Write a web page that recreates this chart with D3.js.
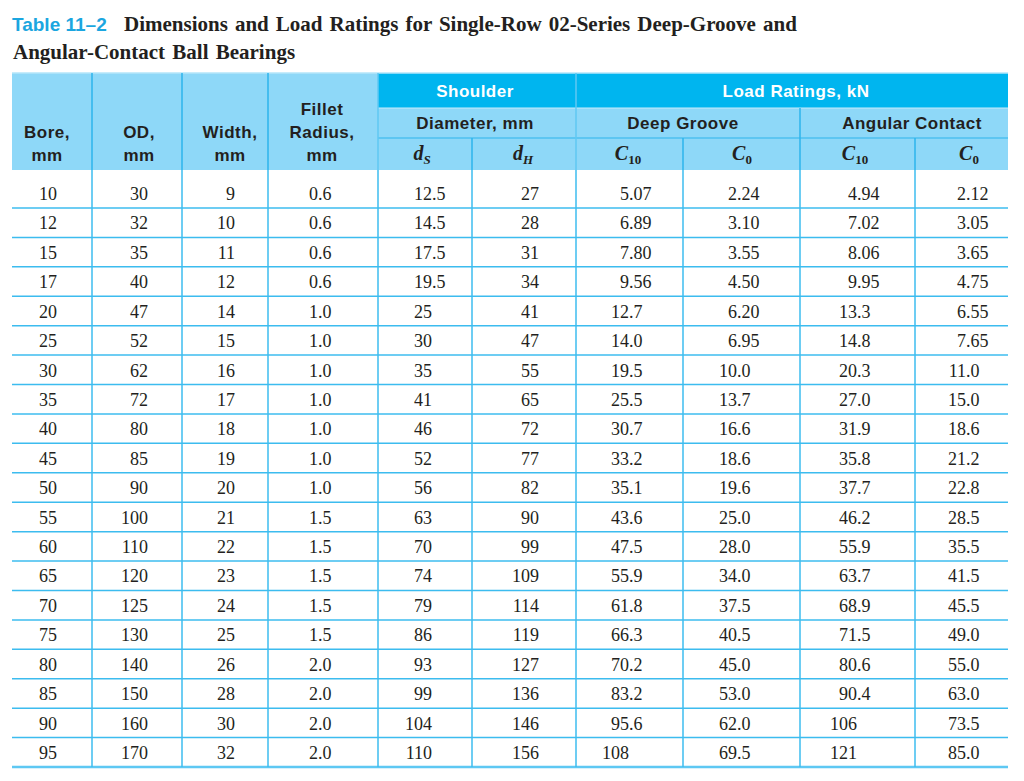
<!DOCTYPE html>
<html>
<head>
<meta charset="utf-8">
<script src="https://cdn.jsdelivr.net/npm/d3@7"></script>
<style>
  html, body { margin: 0; padding: 0; background: #ffffff; }
  svg { display: block; }
</style>
</head>
<body>
<div id="chart"></div>
<script>
// ---------------- DATA ----------------
const titleTag = "Table 11–2";
const titleLine1 = "Dimensions and Load Ratings for Single-Row 02-Series Deep-Groove and";
const titleLine2 = "Angular-Contact Ball Bearings";

const bore   = ["10","12","15","17","20","25","30","35","40","45","50","55","60","65","70","75","80","85","90","95"];
const od     = ["30","32","35","40","47","52","62","72","80","85","90","100","110","120","125","130","140","150","160","170"];
const widthV = ["9","10","11","12","14","15","16","17","18","19","20","21","22","23","24","25","26","28","30","32"];
const fillet = ["0.6","0.6","0.6","0.6","1.0","1.0","1.0","1.0","1.0","1.0","1.0","1.5","1.5","1.5","1.5","1.5","2.0","2.0","2.0","2.0"];
const dS     = ["12.5","14.5","17.5","19.5","25","30","35","41","46","52","56","63","70","74","79","86","93","99","104","110"];
const dH     = ["27","28","31","34","41","47","55","65","72","77","82","90","99","109","114","119","127","136","146","156"];
const dgC10  = ["5.07","6.89","7.80","9.56","12.7","14.0","19.5","25.5","30.7","33.2","35.1","43.6","47.5","55.9","61.8","66.3","70.2","83.2","95.6","108"];
const dgC0   = ["2.24","3.10","3.55","4.50","6.20","6.95","10.0","13.7","16.6","18.6","19.6","25.0","28.0","34.0","37.5","40.5","45.0","53.0","62.0","69.5"];
const acC10  = ["4.94","7.02","8.06","9.95","13.3","14.8","20.3","27.0","31.9","35.8","37.7","46.2","55.9","63.7","68.9","71.5","80.6","90.4","106","121"];
const acC0   = ["2.12","3.05","3.65","4.75","6.55","7.65","11.0","15.0","18.6","21.2","22.8","28.5","35.5","41.5","45.5","49.0","55.0","63.0","73.5","85.0"];

const columns = [bore, od, widthV, fillet, dS, dH, dgC10, dgC0, acC10, acC0];

// header labels
const simpleHeaders = [["Bore,", "mm"], ["OD,", "mm"], ["Width,", "mm"], ["Fillet", "Radius,", "mm"]];
const groupTop = ["Shoulder", "Load Ratings, kN"];
const groupMid = ["Diameter, mm", "Deep Groove", "Angular Contact"];
const symbols = [["d","S",true], ["d","H",true], ["C","10",false], ["C","0",false], ["C","10",false], ["C","0",false]];

// ---------------- LAYOUT ----------------
const W = 1024, H = 781;
const edges = [12, 92, 182, 268, 378, 472, 576, 683, 800, 915, 1008];
const intEnd = [57, 148, 235, 318, 432, 539, 629, 737, 857, 966];
const headerCenters = [47, 139, 230, 322];
const symCenters = [422, 523, 628, 742, 855, 969];

const hdrTop = 73, hdrR1 = 108, hdrR2 = 138, hdrBot = 170;
const nRows = bore.length;

const C_DARK = "#00b5ef";
const C_LIGHT = "#8ed8f8";
const C_LINE = "#2cb4ec";
const C_TEXT = "#231f20";

const sansFont = "'Liberation Sans', Arial, sans-serif";
const serifFont = "'Liberation Serif', 'Times New Roman', serif";

const svg = d3.select("#chart").append("svg")
  .attr("width", W).attr("height", H)
  .attr("viewBox", `0 0 ${W} ${H}`);

svg.append("rect").attr("width", W).attr("height", H).attr("fill", "#fff");

// row scale: y of the bottom border of row i
const yRow = d3.scaleLinear().domain([0, nRows - 1]).range([208, 767]);

// ---------------- TITLE ----------------
svg.append("text").attr("x", 12).attr("y", 31)
  .attr("font-family", sansFont).attr("font-weight", "bold").attr("font-size", 19)
  .attr("fill", "#1ba6e0").text(titleTag);
svg.append("text").attr("x", 124).attr("y", 31)
  .attr("font-family", serifFont).attr("font-weight", "bold").attr("font-size", 21)
  .attr("word-spacing", 1.8)
  .attr("fill", C_TEXT).text(titleLine1);
svg.append("text").attr("x", 13).attr("y", 59)
  .attr("font-family", serifFont).attr("font-weight", "bold").attr("font-size", 21)
  .attr("word-spacing", 2)
  .attr("fill", C_TEXT).text(titleLine2);

// ---------------- HEADER BACKGROUNDS ----------------
const g = svg.append("g");
g.append("rect").attr("x", edges[0]).attr("y", hdrTop)
  .attr("width", edges[10] - edges[0]).attr("height", hdrBot - hdrTop).attr("fill", C_LIGHT);
g.append("rect").attr("x", edges[4]).attr("y", hdrTop)
  .attr("width", edges[10] - edges[4]).attr("height", hdrR1 - hdrTop).attr("fill", C_DARK);

g.append("line").attr("x1", edges[0]).attr("x2", edges[10]).attr("y1", hdrTop).attr("y2", hdrTop)
  .attr("stroke", "#b5e6fa").attr("stroke-width", 1.5);

const hLines = [
  [edges[4], edges[10], hdrR1, "#c7ecfb", 1.2],
  [edges[4], edges[10], hdrR2, C_LINE, 1.2]
];
hLines.forEach(([x1, x2, y, c, w]) => {
  g.append("line").attr("x1", x1).attr("x2", x2).attr("y1", y).attr("y2", y)
    .attr("stroke", c).attr("stroke-width", w);
});
const vLinesHdr = [
  [edges[1], hdrTop, hdrBot], [edges[2], hdrTop, hdrBot], [edges[3], hdrTop, hdrBot],
  [edges[4], hdrTop, hdrBot], [edges[5], hdrR2, hdrBot], [edges[6], hdrTop, hdrBot],
  [edges[7], hdrR2, hdrBot], [edges[8], hdrR1, hdrBot], [edges[9], hdrR2, hdrBot]
];
vLinesHdr.forEach(([x, y1, y2]) => {
  g.append("line").attr("x1", x).attr("x2", x).attr("y1", y1).attr("y2", y2)
    .attr("stroke", y1 === hdrTop && x >= edges[4] ? "#5fc9f3" : C_LINE).attr("stroke-width", 1.5);
});

// ---------------- HEADER TEXT ----------------
const hdrText = (sel) => sel
  .attr("font-family", sansFont).attr("font-weight", "bold").attr("font-size", 17)
  .attr("letter-spacing", 0.5).attr("text-anchor", "middle");

simpleHeaders.forEach((lines, i) => {
  const baseY = [161, 138, 115];
  lines.slice().reverse().forEach((ln, k) => {
    g.append("text").attr("x", headerCenters[i]).attr("y", baseY[k])
      .call(hdrText).attr("fill", C_TEXT).text(ln);
  });
});
[[groupTop[0], 475], [groupTop[1], 796]].forEach(([t, x]) => {
  g.append("text").attr("x", x).attr("y", 97).call(hdrText)
    .attr("fill", "#ffffff").text(t);
});
[[groupMid[0], 475], [groupMid[1], 683], [groupMid[2], 912]].forEach(([t, x]) => {
  g.append("text").attr("x", x).attr("y", 129).call(hdrText)
    .attr("fill", C_TEXT).text(t);
});
symbols.forEach(([main, sub, italicSub], i) => {
  const t = g.append("text").attr("x", symCenters[i]).attr("y", 160).attr("text-anchor", "middle")
    .attr("font-family", serifFont).attr("font-weight", "bold").attr("fill", C_TEXT);
  t.append("tspan").attr("font-size", 20).attr("font-style", "italic").text(main);
  t.append("tspan").attr("font-size", 13).attr("dy", 4)
    .attr("font-style", italicSub ? "italic" : "normal").text(sub);
});

// ---------------- BODY LINES ----------------
const body = svg.append("g");
d3.range(nRows - 1).forEach(i => {
  body.append("line").attr("x1", edges[0]).attr("x2", edges[10])
    .attr("y1", yRow(i)).attr("y2", yRow(i))
    .attr("stroke", "#3cbcef").attr("stroke-width", 1.5);
});
body.append("line").attr("x1", edges[0]).attr("x2", edges[10])
  .attr("y1", yRow(nRows - 1)).attr("y2", yRow(nRows - 1))
  .attr("stroke", "#5ec8f3").attr("stroke-width", 2.5);
edges.slice(1, 10).forEach(x => {
  body.append("line").attr("x1", x).attr("x2", x)
    .attr("y1", hdrBot).attr("y2", yRow(nRows - 1))
    .attr("stroke", "#3cbcef").attr("stroke-width", 1.5);
});

// ---------------- BODY TEXT ----------------
columns.forEach((col, c) => {
  col.forEach((v, i) => {
    const y = yRow(i) - 8;
    const parts = v.split(".");
    body.append("text").attr("x", intEnd[c]).attr("y", y).attr("text-anchor", "end")
      .attr("font-family", serifFont).attr("font-size", 18).attr("fill", C_TEXT)
      .text(parts[0]);
    if (parts.length > 1) {
      body.append("text").attr("x", intEnd[c]).attr("y", y).attr("text-anchor", "start")
        .attr("font-family", serifFont).attr("font-size", 18).attr("fill", C_TEXT)
        .text("." + parts[1]);
    }
  });
});
</script>
</body>
</html>
